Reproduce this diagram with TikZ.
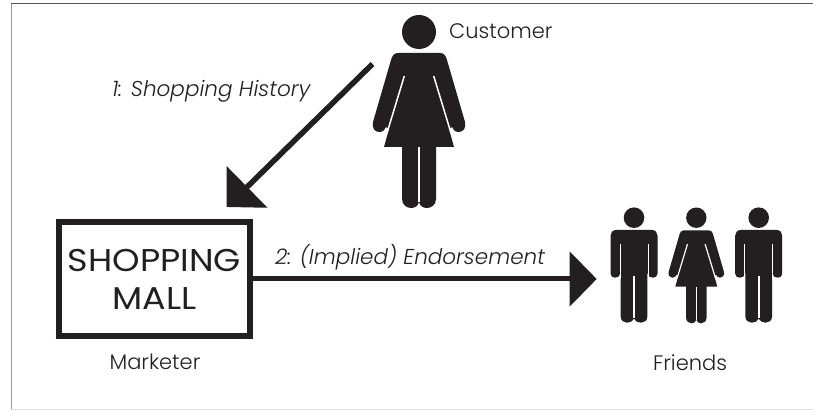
\documentclass[tikz,border=0pt]{standalone}
\usepackage{fontspec}
\setmainfont[ItalicFont={Poppins Light Italic}]{Poppins Light}
\newfontfamily\mallfont[FakeStretch=1.11]{Poppins}
\usetikzlibrary{arrows.meta}
\definecolor{ink}{HTML}{231F20}
\tikzset{
  x=1pt,y=-1pt,
  lbl/.style={text=ink,font=\fontsize{21}{23}\selectfont,inner sep=0pt},
  itlbl/.style={text=ink,font=\fontsize{21.5}{23}\selectfont\itshape,inner sep=0pt},
  mall/.style={draw=ink,line width=6pt,minimum width=191.3pt,minimum height=114.7pt,inner sep=0pt,align=center,text=ink,font=\mallfont\fontsize{31.5}{38}\selectfont},
  bigarrow/.style={draw=ink,line width=5.5pt},
  frame/.style={draw=#1,line width=1pt},
  woman/.pic={
    \fill[ink] (0,0) circle (17);
    \fill[ink] (-21,21) .. controls (-25,21) and (-27,24) .. (-28,28)
      -- (-46,90) .. controls (-47.5,96) and (-44,100) .. (-40,100)
      .. controls (-36,100) and (-34,98) .. (-33,95)
      -- (-30,97) -- (-35,115) -- (-17,115) -- (-17,167)
      .. controls (-17,173) and (-12,176) .. (-8,176)
      .. controls (-4,176) and (-1,174) .. (0,170)
      .. controls (1,174) and (4,176) .. (8,176)
      .. controls (12,176) and (17,173) .. (17,167)
      -- (17,115) -- (35,115) -- (30,97) -- (33,95)
      .. controls (34,98) and (36,100) .. (40,100)
      .. controls (44,100) and (47.5,96) .. (46,90)
      -- (28,28) .. controls (27,24) and (25,21) .. (21,21) -- cycle;
    \draw[white,line width=#1*1.5pt] (-14.7,44) -- (-32,101);
    \draw[white,line width=#1*1.5pt] (14.7,44) -- (32,101);
    \draw[white,line width=#1*1.5pt] (0,115) -- (0,170);
  },
  man/.pic={
    \fill[ink] (0,0) circle (10.3);
    \fill[ink] (-18,12.3) .. controls (-21.5,12.3) and (-23.5,15) .. (-23.5,18)
      -- (-23.5,56) .. controls (-23.5,58.5) and (-21.5,60) .. (-19,60)
      .. controls (-16,60) and (-14,58.5) .. (-14,56)
      -- (-13.3,56) -- (-13.3,99)
      .. controls (-13.3,103) and (-10,105) .. (-7,105)
      .. controls (-4,105) and (-1,103.5) .. (0,101)
      .. controls (1,103.5) and (4,105) .. (7,105)
      .. controls (10,105) and (13.3,103) .. (13.3,99)
      -- (13.3,56) -- (14,56)
      .. controls (14,58.5) and (16,60) .. (19,60)
      .. controls (21.5,60) and (23.5,58.5) .. (23.5,56)
      -- (23.5,18) .. controls (23.5,15) and (21.5,12.3) .. (18,12.3) -- cycle;
    \draw[white,line width=1pt] (-14,26) -- (-14,61);
    \draw[white,line width=1pt] (14,26) -- (14,61);
    \draw[white,line width=1.6pt] (0,58) -- (0,100);
  },
}
\begin{document}
\begin{tikzpicture}
\useasboundingbox (0,0) rectangle (813,411);
\fill[white] (0,0) rectangle (813,411);
\coordinate (tl) at (11,4);
\coordinate (tr) at (813,4);
\coordinate (bl) at (11,409);
\coordinate (br) at (813,409);
\draw[frame=black!65] (tl) -- (tr);
\draw[frame=black!40] (tl) -- (bl);
\draw[frame=black!12] (bl) -- (br);

\pic (customer) at (419,32) {woman={1}};
\pic (f1) at (634,217.7) {man};
\pic[scale=0.6] (f2) at (696.3,217.7) {woman={0.8}};
\pic (f3) at (758.7,217.7) {man};

\node[mall] (box) at (154.5,279) {SHOPPING\\MALL};

\node[lbl,anchor=base west] (cust) at (449,39) {Customer};
\node[lbl,anchor=base] (mkt) at (155,369.5) {Marketer};
\node[lbl,anchor=base] (fr) at (690,370) {Friends};
\node[itlbl,anchor=base west] (l1) at (112,97) {1: Shopping History};
\node[itlbl,anchor=base west] (l2) at (275,264.5) {2: (Implied) Endorsement};

\coordinate (a1s) at (372.5,64);
\coordinate (a1e) at (226.7,207);
\coordinate (a2e) at (596.7,279);
\draw[bigarrow,-{Triangle[length=28.6pt,width=57pt]}] (a1s) -- (a1e);
\draw[bigarrow,line width=5pt,-{Triangle[length=27pt,width=54pt]}] (box.east) -- (a2e);
\end{tikzpicture}
\end{document}
